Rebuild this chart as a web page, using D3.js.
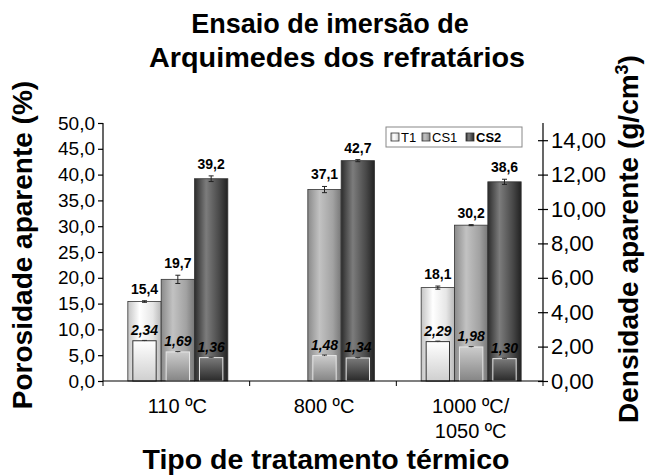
<!DOCTYPE html>
<html>
<head>
<meta charset="utf-8">
<style>
  body { margin: 0; background: #fff; }
  text { font-family: "Liberation Sans", Arial, sans-serif; fill: #000; }
</style>
</head>
<body>
<script src="https://d3js.org/d3.v7.min.js"></script>
<script>
  // chart data
  const categories = ['110 ºC', '800 ºC', '1000 ºC/\n1050 ºC']
  const series = ['T1', 'CS1', 'CS2']
  const porosidade = {
    T1: [15.4, null, 18.1],
    CS1: [19.7, 37.1, 30.2],
    CS2: [39.2, 42.7, 38.6]
  }
  const porosidadeErro = {
    T1: [0.15, null, 0.3],
    CS1: [0.8, 0.6, 0.1],
    CS2: [0.55, 0.2, 0.5]
  }
  const densidade = {
    T1: [2.34, null, 2.29],
    CS1: [1.69, 1.48, 1.98],
    CS2: [1.36, 1.34, 1.30]
  }
  const densidadeErro = {
    T1: [0.02, null, 0.03],
    CS1: [0.02, 0.03, 0.02],
    CS2: [0.02, 0.03, 0.02]
  }
  const leftTicks = d3.range(0, 50.1, 5)
  const rightTicks = d3.range(0, 14.1, 2)

  const w = 651
  const h = 475
  const pLeft = 103, pRight = 543, pTop = 123, pBottom = 381

  const svg = d3.select('body').append('svg')
    .attr('width', w).attr('height', h)

  const defs = svg.append('defs')
  const barColors = {
    T1: ['#c4c4c4', '#ffffff', '#e6e6e6', '#b8b8b8'],
    CS1: ['#8a8a8a', '#c2c2c2', '#a2a2a2', '#787878'],
    CS2: ['#2c2c2c', '#7c7c7c', '#484848', '#222222']
  }
  const densColors = {
    T1: ['#ffffff', '#cfcfcf'],
    CS1: ['#cccccc', '#858585'],
    CS2: ['#7a7a7a', '#2a2a2a']
  }
  series.forEach(s => {
    const g = defs.append('linearGradient').attr('id', 'g' + s)
      .attr('x1', 0).attr('x2', 1).attr('y1', 0).attr('y2', 0)
    ;[0, 0.35, 0.75, 1].forEach((o, i) => g.append('stop').attr('offset', o).attr('stop-color', barColors[s][i]))
    const gd = defs.append('linearGradient').attr('id', 'd' + s)
      .attr('x1', 0).attr('x2', 0).attr('y1', 0).attr('y2', 1)
    gd.append('stop').attr('offset', 0).attr('stop-color', densColors[s][0])
    gd.append('stop').attr('offset', 1).attr('stop-color', densColors[s][1])
  })

  const x0 = d3.scaleBand().domain(categories).range([pLeft, pRight])
  const x1 = d3.scaleBand().domain(series).range([0, x0.bandwidth()]).paddingOuter(0.7)
  const yL = d3.scaleLinear().domain([0, 50]).range([pBottom, pTop])
  const yR = d3.scaleLinear().domain([0, 15]).range([pBottom, pTop])

  // porosity bars
  const bars = []
  categories.forEach((c, i) => series.forEach(s => {
    bars.push({ c, s, p: porosidade[s][i], pe: porosidadeErro[s][i], d: densidade[s][i], de: densidadeErro[s][i] })
  }))
  const valid = bars.filter(b => b.p != null)
  const bw = x1.bandwidth()
  const bx = b => x0(b.c) + x1(b.s) + 1.5

  svg.selectAll('rect.bar').data(valid).enter().append('rect')
    .attr('class', 'bar')
    .attr('x', bx)
    .attr('y', b => yL(b.p))
    .attr('width', bw)
    .attr('height', b => pBottom - yL(b.p))
    .attr('fill', b => 'url(#g' + b.s + ')')
    .attr('stroke', '#333').attr('stroke-width', 0.8)

  const errG = svg.append('g').attr('stroke', '#222').attr('stroke-width', 1)
  valid.forEach(b => {
    const cx = bx(b) + bw / 2
    errG.append('line').attr('x1', cx).attr('x2', cx).attr('y1', yL(b.p - b.pe)).attr('y2', yL(b.p + b.pe))
    errG.append('line').attr('x1', cx - 2.5).attr('x2', cx + 2.5).attr('y1', yL(b.p - b.pe)).attr('y2', yL(b.p - b.pe))
    errG.append('line').attr('x1', cx - 2.5).attr('x2', cx + 2.5).attr('y1', yL(b.p + b.pe)).attr('y2', yL(b.p + b.pe))
  })

  svg.selectAll('text.plab').data(valid).enter().append('text')
    .attr('x', b => bx(b) + bw / 2)
    .attr('y', b => yL(b.p + b.pe) - 7)
    .attr('text-anchor', 'middle')
    .style('font-size', '14px').style('font-weight', 'bold')
    .text(b => d3.format('.1f')(b.p).replace('.', ','))

  // density bars
  const dw = bw * 0.7
  const validD = bars.filter(b => b.d != null)
  svg.selectAll('rect.dens').data(validD).enter().append('rect')
    .attr('class', 'dens')
    .attr('x', b => bx(b) + (bw - dw) / 2)
    .attr('y', b => yR(b.d))
    .attr('width', dw)
    .attr('height', b => pBottom - yR(b.d))
    .attr('fill', b => 'url(#d' + b.s + ')')
    .attr('stroke', b => b.s === 'T1' ? '#333' : '#e6e6e6').attr('stroke-width', 1)

  const errD = svg.append('g').attr('stroke', '#333').attr('stroke-width', 1)
  validD.forEach(b => {
    const cx = bx(b) + bw / 2
    errD.append('line').attr('x1', cx - 2.5).attr('x2', cx + 2.5).attr('y1', yR(b.d + b.de)).attr('y2', yR(b.d + b.de))
    errD.append('line').attr('x1', cx).attr('x2', cx).attr('y1', yR(b.d - b.de)).attr('y2', yR(b.d + b.de))
  })

  svg.selectAll('text.dlab').data(validD).enter().append('text')
    .attr('x', b => bx(b) + bw / 2)
    .attr('y', b => yR(b.d) - 6)
    .attr('text-anchor', 'middle')
    .style('font-size', '14px').style('font-weight', 'bold').style('font-style', 'italic')
    .text(b => d3.format('.2f')(b.d).replace('.', ','))

  // axes
  const fmtL = d => d3.format('.1f')(d).replace('.', ',')
  const fmtR = d => d3.format('.2f')(d).replace('.', ',')

  const axL = svg.append('g').attr('transform', 'translate(' + pLeft + ',0)')
    .call(d3.axisLeft(yL).tickValues(leftTicks).tickFormat(fmtL).tickSize(5).tickPadding(3))
  axL.select('.domain').attr('d', 'M0,' + pTop + 'V' + pBottom)
  axL.selectAll('.tick text').style('font-size', '19px')

  const axR = svg.append('g').attr('transform', 'translate(' + pRight + ',0)')
    .call(d3.axisRight(yR).tickValues(rightTicks).tickFormat(fmtR).tickSize(5).tickPadding(3))
  axR.select('.domain').attr('d', 'M0,' + pTop + 'V' + pBottom)
  axR.selectAll('.tick line').attr('x1', -5).attr('x2', 5)
  axR.selectAll('.tick text').style('font-size', '22px')

  const axB = svg.append('g').attr('transform', 'translate(0,' + pBottom + ')')
    .call(d3.axisBottom(x0).tickValues([]).tickSizeOuter(0))
  axB.select('.domain').attr('d', 'M' + pLeft + ',0H' + pRight)
  const edges = [pLeft].concat(categories.map(c => x0(c) + x0.bandwidth()))
  edges.forEach(e => axB.append('line').attr('x1', e).attr('x2', e).attr('y1', 0).attr('y2', 5).attr('stroke', '#000'))

  svg.selectAll('.domain, .tick line').attr('stroke', '#000').attr('stroke-width', 1.2)
  svg.selectAll('.tick text').attr('fill', '#000')
    .style('font-family', '"Liberation Sans", Arial, sans-serif')

  // category labels
  categories.forEach(c => {
    const cx = x0(c) + x0.bandwidth() / 2 + 1
    const t = svg.append('text')
      .attr('x', cx)
      .attr('y', 413)
      .attr('text-anchor', 'middle')
      .style('font-size', '20px')
    c.split('\n').forEach((line, i) => t.append('tspan')
      .attr('x', cx).attr('dy', i ? 25 : 0).text(line))
  })

  // titles
  svg.append('text').attr('x', 330).attr('y', 33).attr('text-anchor', 'middle')
    .style('font-size', '27px').style('font-weight', 'bold').text('Ensaio de imersão de')
  svg.append('text').attr('x', 337).attr('y', 67).attr('text-anchor', 'middle')
    .attr('textLength', 376).attr('lengthAdjust', 'spacingAndGlyphs')
    .style('font-size', '28px').style('font-weight', 'bold').text('Arquimedes dos refratários')
  svg.append('text').attr('x', 326).attr('y', 469).attr('text-anchor', 'middle')
    .style('font-size', '28.5px').style('font-weight', 'bold').text('Tipo de tratamento térmico')
  svg.append('text').attr('transform', 'translate(32,245) rotate(-90)').attr('text-anchor', 'middle')
    .style('font-size', '28px').style('font-weight', 'bold').text('Porosidade aparente (%)')
  const rt = svg.append('text').attr('transform', 'translate(638,239) rotate(-90)').attr('text-anchor', 'middle')
    .style('font-size', '28px').style('font-weight', 'bold')
  rt.append('tspan').text('Densidade aparente (g/cm')
  rt.append('tspan').attr('dy', -10).style('font-size', '18px').text('3')
  rt.append('tspan').attr('dy', 10).text(')')

  // legend
  const lg = svg.append('g').attr('transform', 'translate(386,127)')
  lg.append('rect').attr('width', 136).attr('height', 20).attr('fill', '#fff').attr('stroke', '#888')
  const lx = [5, 36, 80]
  series.forEach((s, i) => {
    lg.append('rect').attr('x', lx[i]).attr('y', 6).attr('width', 8).attr('height', 8)
      .attr('fill', 'url(#g' + s + ')').attr('stroke', '#333').attr('stroke-width', 0.8)
    lg.append('text').attr('x', lx[i] + 10).attr('y', 15)
      .style('font-size', '13px').style('font-weight', s === 'CS2' ? 'bold' : 'normal')
      .attr('fill', s === 'CS2' ? '#000' : '#555').text(s)
  })
</script>
</body>
</html>
